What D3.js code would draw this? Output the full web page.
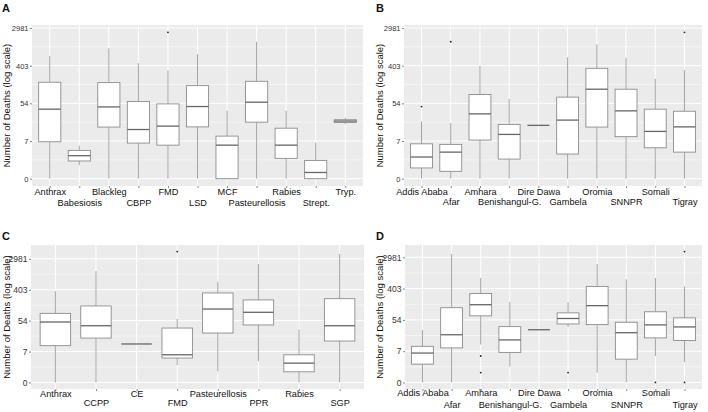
<!DOCTYPE html>
<html><head><meta charset="utf-8">
<script src="https://cdn.jsdelivr.net/npm/d3@7"></script>
<style>
body{margin:0;background:#fff}
svg{display:block}
text{font-family:"Liberation Sans",Arial,sans-serif}
</style>
</head><body>
<svg id="chart" width="708" height="412"></svg>
<script>
// y values are ln(deaths + 1)
const tickValues = [0, 2, 4, 6, 8];
const tickLabels = ["0", "7", "54", "403", "2981"];
const minorTicks = [1, 3, 5, 7];

// Panel A
const catsA = ["Anthrax","Babesiosis","Blackleg","CBPP","FMD","LSD","MCF","Pasteurellosis","Rabies","Strept.","Tryp."];
const loA  = [0, 0.71, 0, 0, 0, 0, 0, 0, 0, 0, 2.90];
const q1A  = [1.96, 0.94, 2.74, 1.89, 1.78, 2.75, 0, 3.00, 1.08, 0, 2.98];
const medA = [3.69, 1.22, 3.81, 2.61, 2.79, 3.83, 1.78, 4.06, 1.78, 0.33, 3.06];
const q3A  = [5.12, 1.50, 5.10, 4.10, 3.97, 4.94, 2.26, 5.17, 2.68, 0.97, 3.13];
const hiA  = [6.52, 1.75, 6.92, 6.13, 5.74, 6.61, 3.62, 7.27, 3.60, 1.91, 3.23];
const outA = [[], [], [], [], [7.77], [], [], [], [], [], []];

// Panel B
const catsB = ["Addis Ababa","Afar","Amhara","Benishangul-G.","Dire Dawa","Gambela","Oromia","SNNPR","Somali","Tigray"];
const loB  = [0, 0, 0, 0, 2.83, 0, 0, 0, 0, 0];
const q1B  = [0.57, 0.39, 2.05, 1.04, 2.83, 1.31, 2.74, 2.23, 1.64, 1.41];
const medB = [1.15, 1.41, 3.44, 2.35, 2.83, 3.11, 4.75, 3.60, 2.51, 2.75];
const q3B  = [1.85, 1.82, 4.47, 2.88, 2.83, 4.33, 5.86, 4.75, 3.69, 3.58];
const hiB  = [3.04, 2.95, 5.99, 4.22, 2.83, 6.44, 7.13, 6.41, 5.30, 5.77];
const outB = [[3.83], [7.27], [], [], [], [], [], [], [], [7.77]];

// Panel C
const catsC = ["Anthrax","CCPP","CE","FMD","Pasteurellosis","PPR","Rabies","SGP"];
const loC  = [0, 0, 2.49, 1.12, 0.71, 1.38, 0, 0];
const q1C  = [2.38, 2.87, 2.49, 1.58, 3.20, 3.72, 0.69, 2.68];
const medC = [3.91, 3.67, 2.49, 1.79, 4.75, 4.54, 1.25, 3.67];
const q3C  = [4.47, 4.95, 2.49, 3.52, 5.79, 5.34, 1.79, 5.42];
const hiC  = [5.90, 7.20, 2.49, 4.11, 6.51, 7.67, 3.41, 8.32];
const outC = [[], [], [], [8.47], [], [], [], []];

// Panel D
const catsD = ["Addis Ababa","Afar","Amhara","Benishangul-G.","Dire Dawa","Gambela","Oromia","SNNPR","Somali","Tigray"];
const loD  = [0, 0, 2.42, 1.02, 3.37, 3.55, 0.63, 0, 1.69, 1.30];
const q1D  = [1.17, 2.21, 4.26, 1.92, 3.37, 3.74, 3.70, 1.49, 2.85, 2.68];
const medD = [1.88, 3.05, 4.97, 2.72, 3.37, 4.09, 4.91, 3.18, 3.68, 3.55];
const q3D  = [2.31, 4.78, 5.69, 3.57, 3.37, 4.45, 6.14, 3.85, 4.52, 4.13];
const hiD  = [3.35, 8.22, 6.68, 5.15, 3.37, 5.12, 7.57, 6.59, 6.68, 6.14];
const outD = [[], [], [1.69, 0.63], [], [], [0.63], [], [], [0], [8.37, 0]];

const panels = [
  {letter:"A", cats:catsA, lo:loA, q1:q1A, med:medA, q3:q3A, hi:hiA, out:outA,
   x:32, y:25, w:331, h:161, tickFont:7.5, row1:9, row2:20, lx:2, ly:12, tx:10},
  {letter:"B", cats:catsB, lo:loB, q1:q1B, med:medB, q3:q3B, hi:hiB, out:outB,
   x:404, y:25, w:298, h:161, tickFont:7.5, row1:9, row2:19, lx:376, ly:12, tx:383},
  {letter:"C", cats:catsC, lo:loC, q1:q1C, med:medC, q3:q3C, hi:hiC, out:outC,
   x:31, y:245, w:333, h:144, tickFont:8.5, row1:8, row2:16.5, lx:2, ly:240, tx:10},
  {letter:"D", cats:catsD, lo:loD, q1:q1D, med:medD, q3:q3D, hi:hiD, out:outD,
   x:405, y:245, w:297, h:144, tickFont:8.5, row1:7, row2:19, lx:376, ly:240, tx:383}
];

const svg = d3.select("#chart");

panels.forEach(p => {
  const allVals = p.lo.concat(p.hi, d3.merge(p.out));
  const mn = d3.min(allVals), mx = d3.max(allVals);
  const pad = (mx - mn) * 0.05;
  const y = d3.scaleLinear().domain([mn - pad, mx + pad]).range([p.y + p.h, p.y]);
  const x = d3.scalePoint().domain(p.cats).range([p.x, p.x + p.w]).padding(0.6);
  const bw = x.step() * 0.75;

  const g = svg.append("g");
  g.append("rect").attr("x", p.x).attr("y", p.y).attr("width", p.w).attr("height", p.h).attr("fill", "#EBEBEB");

  g.selectAll(".ymin").data(minorTicks).join("line")
    .attr("x1", p.x).attr("x2", p.x + p.w)
    .attr("y1", d => y(d)).attr("y2", d => y(d))
    .attr("stroke", "#fff").attr("stroke-width", 0.5);
  g.selectAll(".ymaj").data(tickValues).join("line")
    .attr("x1", p.x).attr("x2", p.x + p.w)
    .attr("y1", d => y(d)).attr("y2", d => y(d))
    .attr("stroke", "#fff").attr("stroke-width", 1);
  g.selectAll(".xmaj").data(p.cats).join("line")
    .attr("x1", d => x(d)).attr("x2", d => x(d))
    .attr("y1", p.y).attr("y2", p.y + p.h)
    .attr("stroke", "#fff").attr("stroke-width", 1);

  const idx = d3.range(p.cats.length);
  const bx = g.selectAll(".box").data(idx).join("g");
  bx.append("line")
    .attr("x1", i => x(p.cats[i])).attr("x2", i => x(p.cats[i]))
    .attr("y1", i => y(p.q3[i])).attr("y2", i => y(p.hi[i]))
    .attr("stroke", "#9a9a9a").attr("stroke-width", 0.9);
  bx.append("line")
    .attr("x1", i => x(p.cats[i])).attr("x2", i => x(p.cats[i]))
    .attr("y1", i => y(p.q1[i])).attr("y2", i => y(p.lo[i]))
    .attr("stroke", "#9a9a9a").attr("stroke-width", 0.9);
  bx.append("rect")
    .attr("x", i => x(p.cats[i]) - bw / 2).attr("width", bw)
    .attr("y", i => y(p.q3[i])).attr("height", i => y(p.q1[i]) - y(p.q3[i]))
    .attr("fill", "#fff").attr("stroke", "#8c8c8c").attr("stroke-width", 0.9);
  bx.append("line")
    .attr("x1", i => x(p.cats[i]) - bw / 2).attr("x2", i => x(p.cats[i]) + bw / 2)
    .attr("y1", i => y(p.med[i])).attr("y2", i => y(p.med[i]))
    .attr("stroke", "#666").attr("stroke-width", 1.3);
  const outs = [];
  p.out.forEach((arr, i) => arr.forEach(v => outs.push({c: p.cats[i], v})));
  g.selectAll(".out").data(outs).join("circle")
    .attr("cx", d => x(d.c)).attr("cy", d => y(d.v)).attr("r", 0.9).attr("fill", "#222");

  const ya = g.append("g").attr("transform", `translate(${p.x},0)`)
    .call(d3.axisLeft(y).tickValues(tickValues).tickFormat((d, i) => tickLabels[i]).tickSize(2).tickPadding(1.5));
  ya.select(".domain").remove();
  ya.selectAll(".tick line").attr("stroke", "#333").attr("stroke-width", 0.6);
  ya.selectAll("text").attr("fill", "#333").style("font-size", p.tickFont + "px")
    .style("font-family", '"Liberation Sans",Arial,sans-serif');

  const xa = g.append("g").attr("transform", `translate(0,${p.y + p.h})`)
    .call(d3.axisBottom(x).tickSize(2).tickPadding(0));
  xa.select(".domain").remove();
  xa.selectAll(".tick line").attr("stroke", "#333").attr("stroke-width", 0.6);
  xa.selectAll("text").attr("fill", "#111").style("font-size", "9.2px")
    .style("font-family", '"Liberation Sans",Arial,sans-serif')
    .attr("dy", null)
    .attr("y", (d, i) => i % 2 === 0 ? p.row1 : p.row2);

  g.append("text")
    .attr("transform", `translate(${p.tx},${p.y + p.h / 2}) rotate(-90)`)
    .attr("text-anchor", "middle").style("font-size", "9.5px").attr("fill", "#111")
    .text("Number of Deaths (log scale)");

  g.append("text").attr("x", p.lx).attr("y", p.ly)
    .style("font-size", "11px").style("font-weight", "bold").attr("fill", "#111")
    .text(p.letter);
});
</script>
</body></html>
